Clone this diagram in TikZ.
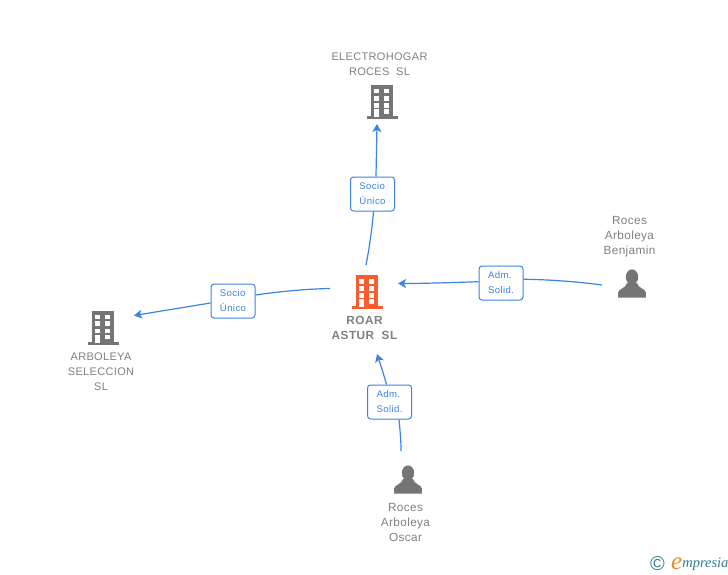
\documentclass[tikz,border=0pt]{standalone}
\usepackage{fontspec}
\setmainfont{Liberation Sans}
\newfontfamily\logofont{Liberation Serif}
\usetikzlibrary{arrows.meta}
\definecolor{linkblue}{HTML}{3C83E2}
\definecolor{icongray}{HTML}{757575}
\definecolor{textgray}{HTML}{808080}
\definecolor{iconorange}{HTML}{FA5C2E}
\definecolor{logoteal}{HTML}{2F7F93}
\definecolor{logoorange}{HTML}{F08A1E}
\tikzset{
  link/.style={linkblue,line width=1.2pt},
  tip/.style={-{Stealth[length=8pt,width=9pt,inset=2pt]}},
  rolebox/.style={draw=linkblue,fill=white,line width=1pt,rounded corners=3pt,
    minimum width=44pt,minimum height=34pt,inner sep=0pt,align=left,
    text=linkblue,font=\fontsize{9.6}{15}\selectfont\addfontfeatures{LetterSpace=4}},
  spot/.style={inner sep=0pt,minimum size=30pt},
  title/.style={text=textgray,align=center,inner sep=0pt,
    font=\fontsize{11}{15}\selectfont\addfontfeatures{LetterSpace=3}},
  persontitle/.style={title,font=\fontsize{11.8}{15}\selectfont\addfontfeatures{LetterSpace=3}},
  mainfirm/.style={title,font=\fontsize{11.8}{15}\selectfont\bfseries\addfontfeatures{LetterSpace=4}},
  building/.pic={
    \fill[pic actions] (-11,-17) rectangle (11,15) ;
    \fill[pic actions] (-15.5,14) rectangle (15.5,17) ;
    \fill[white] (-8,-13) rectangle (-3,-8.5) ;
    \fill[white] (1.7,-13) rectangle (7,-8.5) ;
    \fill[white] (-8,-6.2) rectangle (-3,-1.4) ;
    \fill[white] (1.7,-6.2) rectangle (7,-1.4) ;
    \fill[white] (-8,1) rectangle (-3,5.8) ;
    \fill[white] (1.7,1) rectangle (7,5.8) ;
    \fill[white] (-8,7.3) rectangle (-3,15) ;
    \fill[white] (1.7,7.3) rectangle (7,11.8) ;
  },
  person/.pic={
    \fill[pic actions] (0,-7) ellipse (6.2 and 7.6) ;
    \fill[pic actions] (-13.8,13.5) -- (-13.8,8.5) .. controls (-13.5,4.5) and (-6,4.5) .. (-5,-1)
      -- (5,-1) .. controls (6,4.5) and (13.5,4.5) .. (13.8,8.5) -- (13.8,13.5) -- cycle ;
  },
}
\begin{document}
\begin{tikzpicture}[x=1pt,y=-1pt]
  \useasboundingbox (0,0) rectangle (728,575) ;
  % icons
  \node[spot] (electro) at (382,102) {} ;
  \node[spot] (roar) at (367,292) {} ;
  \node[spot] (seleccion) at (103,327.5) {} ;
  \node[spot] (benjamin) at (632,284) {} ;
  \node[spot] (oscar) at (408,480) {} ;
  \pic[fill=icongray] at (electro) {building} ;
  \pic[fill=iconorange] at (roar) {building} ;
  \pic[fill=icongray] at (seleccion) {building} ;
  \pic[fill=icongray] at (benjamin) {person} ;
  \pic[fill=icongray] at (oscar) {person} ;
  % names
  \node[title] (electroname) at (379.5,64.5) {ELECTROHOGAR\\ROCES\ \ SL} ;
  \node[mainfirm] (roarname) at (364.5,328) {ROAR\\ASTUR\ \ SL} ;
  \node[title] (seleccionname) at (101,372) {ARBOLEYA\\SELECCION\\SL} ;
  \node[persontitle] (benjaminname) at (629.5,237) {Roces\\Arboleya\\Benjamin} ;
  \node[persontitle] (oscarname) at (405.5,522) {Roces\\Arboleya\\Oscar} ;
  % free ends of the links
  \coordinate (roarN) at (366,265) ;
  \coordinate (roarW) at (330,288.5) ;
  \coordinate (roarE) at (398,283.5) ;
  \coordinate (roarS) at (377,354) ;
  \coordinate (electroS) at (377,124) ;
  \coordinate (seleccionE) at (134,315.5) ;
  \coordinate (benjaminW) at (602,285) ;
  \coordinate (oscarN) at (401,451) ;
  % role boxes
  \node[rolebox] (socioup) at (372.5,194) {Socio\\Único} ;
  \node[rolebox] (socioleft) at (233,301) {Socio\\Único} ;
  \node[rolebox] (admright) at (501,283) {Adm.\\Solid.} ;
  \node[rolebox] (admdown) at (389.5,402) {Adm.\\Solid.} ;
  % links
  \draw[link] (roarN) .. controls (369,250) and (372,230) .. ([xshift=1]socioup.south) ;
  \draw[link,tip] ([xshift=3.5]socioup.north) .. controls (376.3,160) and (376.7,140) .. (electroS) ;
  \draw[link] (roarW) .. controls (305,289) and (280,291.5) .. ([yshift=6]socioleft.east) ;
  \draw[link,tip] ([yshift=-2]socioleft.west) -- (seleccionE) ;
  \draw[link] (benjaminW) .. controls (580,282) and (550,279.5) .. ([yshift=3.7]admright.east) ;
  \draw[link,tip] ([yshift=1.3]admright.west) .. controls (455,282.5) and (425,283.5) .. (roarE) ;
  \draw[link] (oscarN) .. controls (401,440) and (400,430) .. ([xshift=9.5]admdown.south) ;
  \draw[link,tip] ([xshift=-3]admdown.north) .. controls (384,375) and (380,363) .. (roarS) ;
  % logo
  \node[text=logoteal,inner sep=0pt,font=\fontsize{20}{20}\selectfont] (copy) at (657.5,563.5) {©} ;
  \node[text=logoteal,inner sep=0pt,anchor=base west,font=\logofont\itshape\fontsize{14.5}{14}\selectfont] (logotext) at (671,567.5) %
  {\raisebox{-2pt}{\textcolor{logoorange}{\fontsize{25}{25}\selectfont e}}mpresia} ;
\end{tikzpicture}
\end{document}
